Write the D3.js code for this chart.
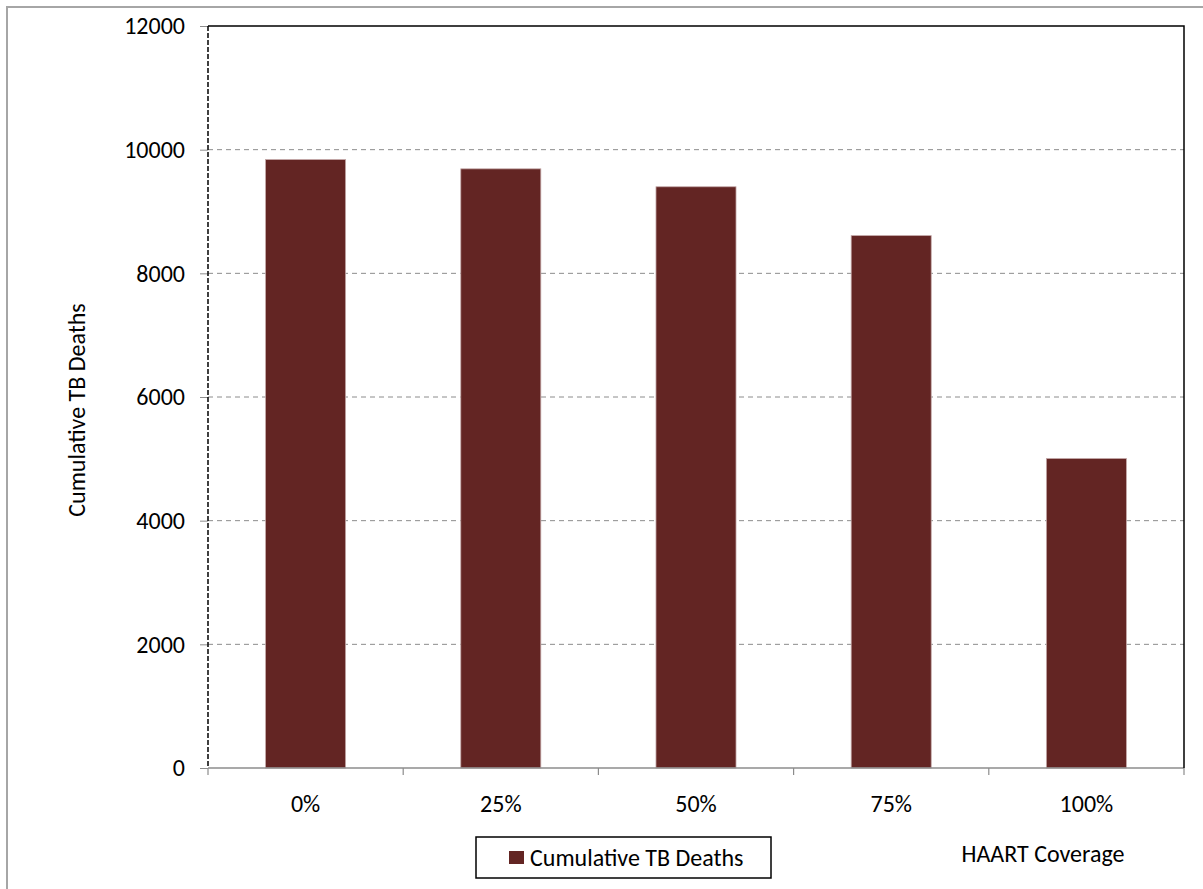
<!DOCTYPE html>
<html lang="en">
<head>
<meta charset="utf-8">
<title>Cumulative TB Deaths</title>
<style>
  body { margin: 0; background: #fff; }
  svg text { font-family: Carlito, Calibri, Lato, "Open Sans", sans-serif; fill: #000; }
</style>
</head>
<body>
<svg id="chart" width="1203" height="889"></svg>
<script src="https://cdn.jsdelivr.net/npm/d3@7"></script>
<script>
// data
var categories = ["0%", "25%", "50%", "75%", "100%"];
var deaths = [9840, 9690, 9400, 8610, 5005];
var yTicks = [0, 2000, 4000, 6000, 8000, 10000, 12000];
var seriesName = "Cumulative TB Deaths";
var xTitle = "HAART Coverage";
var yTitle = "Cumulative TB Deaths";

var svg = d3.select("#chart");
var plotLeft = 208, plotRight = 1184, plotTop = 26, plotBottom = 768;
var barColor = "#632523";
var fontSize = 24;

// outer chart border (only top/left visible in reference)
svg.append("path")
    .attr("d", "M7,889 V7 H1203")
    .attr("fill", "none")
    .attr("stroke", "#a6a6a6")
    .attr("stroke-width", 2);

var x = d3.scaleBand()
    .domain(categories)
    .range([plotLeft, plotRight])
    .paddingInner(0.59)
    .paddingOuter(0.295);

var y = d3.scaleLinear()
    .domain([0, 12000])
    .range([plotBottom, plotTop]);

// gridlines
svg.append("g")
  .selectAll("line")
  .data(yTicks.filter(function(d) { return d > 0 && d < 12000; }))
  .enter().append("line")
    .attr("x1", plotLeft).attr("x2", plotRight)
    .attr("y1", function(d) { return y(d); })
    .attr("y2", function(d) { return y(d); })
    .attr("stroke", "#8c8c8c")
    .attr("stroke-dasharray", "5,4");

// bars
svg.append("g")
  .selectAll("rect")
  .data(deaths)
  .enter().append("rect")
    .attr("x", function(d, i) { return x(categories[i]); })
    .attr("y", function(d) { return y(d); })
    .attr("width", x.bandwidth())
    .attr("height", function(d) { return plotBottom - y(d); })
    .attr("fill", barColor)
    .attr("stroke", "#c4a8a8")
    .attr("stroke-width", 0.8);

// y axis
var yAxis = svg.append("g")
    .attr("transform", "translate(" + plotLeft + ",0)")
    .call(d3.axisLeft(y).tickValues(yTicks).tickSize(8).tickPadding(15).tickFormat(d3.format("d")));
yAxis.select(".domain").remove();
yAxis.selectAll(".tick line").attr("stroke", "#8c8c8c");
yAxis.selectAll("text").attr("font-size", fontSize).attr("fill", "#000");

svg.append("line")
    .attr("x1", plotLeft).attr("x2", plotLeft)
    .attr("y1", plotTop).attr("y2", plotBottom)
    .attr("stroke", "#111")
    .attr("stroke-width", 1.6)
    .attr("stroke-dasharray", "5,2");

// x axis: ticks at category boundaries
var xAxis = svg.append("g")
    .attr("transform", "translate(0," + plotBottom + ")")
    .call(d3.axisBottom(x).tickSize(0).tickPadding(27));
xAxis.select(".domain").remove();
xAxis.selectAll("text").attr("font-size", fontSize).attr("fill", "#000");

var bounds = d3.range(categories.length + 1).map(function(i) { return plotLeft + i * x.step(); });
svg.append("g")
  .selectAll("line")
  .data(bounds)
  .enter().append("line")
    .attr("x1", function(d) { return d; }).attr("x2", function(d) { return d; })
    .attr("y1", plotBottom).attr("y2", plotBottom + 7)
    .attr("stroke", "#8c8c8c")
    .attr("stroke-width", 1.2);

svg.append("line")
    .attr("x1", plotLeft).attr("x2", plotRight)
    .attr("y1", plotBottom).attr("y2", plotBottom)
    .attr("stroke", "#8c8c8c")
    .attr("stroke-width", 1.5);

// frame top + right
svg.append("path")
    .attr("d", "M" + plotLeft + "," + plotTop + " H" + plotRight + " V" + plotBottom)
    .attr("fill", "none")
    .attr("stroke", "#000")
    .attr("stroke-width", 1.5);

// titles
svg.append("text")
    .attr("transform", "translate(85,410) rotate(-90)")
    .attr("text-anchor", "middle")
    .attr("font-size", fontSize)
    .text(yTitle);

svg.append("text")
    .attr("x", 1043).attr("y", 862)
    .attr("text-anchor", "middle")
    .attr("font-size", fontSize)
    .text(xTitle);

// legend
var legend = svg.append("g");
legend.append("rect")
    .attr("x", 476).attr("y", 837)
    .attr("width", 295).attr("height", 41)
    .attr("fill", "#fff")
    .attr("stroke", "#000")
    .attr("stroke-width", 1.5);
legend.append("rect")
    .attr("x", 509).attr("y", 851)
    .attr("width", 15).attr("height", 13)
    .attr("fill", barColor);
legend.append("text")
    .attr("x", 530).attr("y", 866)
    .attr("font-size", fontSize)
    .text(seriesName);
</script>
</body>
</html>
